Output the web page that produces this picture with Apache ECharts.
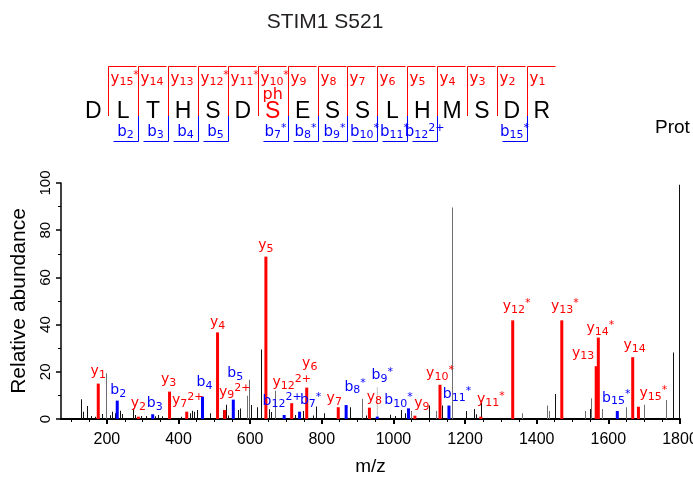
<!DOCTYPE html>
<html><head><meta charset="utf-8">
<script src="https://cdn.jsdelivr.net/npm/echarts@6/dist/echarts.min.js"></script>
<style>html,body{margin:0;padding:0;background:#fff}#c{width:693px;height:478px}</style>
</head><body><div id="c"></div>
<script>
// ---------- data ----------
const chartTitle = 'STIM1 S521';
const sideText = 'Prot';
const xAxisName = 'm/z';
const yAxisName = 'Relative abundance';
const sequence = ['D','L','T','H','S','D','S','E','S','S','L','H','M','S','D','R'];
const phosphoSite = 6;
const phosphoText = 'ph';
// fragment labels at each residue boundary (0 = between residue 1 and 2)
const seqYLabels = ['y15*','y14','y13','y12*','y11*','y10*','y9','y8','y7','y6','y5','y4','y3','y2','y1'];
const seqBLabels = ['','b2','b3','b4','b5','','b7*','b8*','b9*','b10*','b11*','b12^2+','','','b15*'];

const xTickValues = [200,400,600,800,1000,1200,1400,1600,1800];
const xMinorTickValues = [100,150,250,300,350,450,500,550,650,700,750,850,900,950,1050,1100,1150,1250,1300,1350,1450,1500,1550,1650,1700,1750];

// y-type fragment ions (red)
const yIonNames = ['y1','y2','y3','y7^2+','y4','y9^2+','y5','y12^2+','y6','y7','y8','y9','y10*','y11*','y12*','y13*','y13','y14*','y14','y15*'];
const yIonMz    = [176,288,375,423,509,529,644,716,758,846,933,1060,1130,1244,1333,1470,1566,1572,1668,1684];
const yIonInt   = [15,1,11.6,3.1,36.7,3.8,68.8,6.7,13.3,5,4.8,1.4,14.5,1,41.8,41.8,22.4,34.5,26.2,5.2];

// b-type fragment ions (blue)
const bIonNames = ['b2','b3','b4','b5','b12^2+','b7*','b8*','b9*','b10*','b11*','b15*'];
const bIonMz    = [229,328,467,553,695,738,868,955,1042,1155,1625];
const bIonInt   = [7.8,2,9.5,8.2,1.7,3.1,5.9,1,4.5,5.7,3.4];

// unassigned peaks, black
const blackMz  = [130,135,146,158,167,189,209,217,223,239,245,273,279,298,312,335,344,354,409,433,440,446,453,488,512,525,533,539,567,574,605,620,633,654,659,728,749,777,786,807,881,924,991,1005,1023,1033,1102,1138,1205,1226,1233,1247,1453,1549,1781,1798];
const blackInt = [8.4,3.1,5.5,1.3,1,2.1,1.6,3.1,2.4,3.5,2.1,4.5,1.7,1.3,1.3,1.2,1.7,1.2,1,2.4,3.5,3.1,3.8,2.4,4.5,3.8,6,1.5,3.8,4.5,5.9,5,29.4,4.1,3,1.7,3.4,1.5,5.3,2.4,5,1.5,1.8,1.3,3.8,2.4,5.7,5.7,3.4,4.2,2,7.8,10.6,4.2,28.2,99.3];
// unassigned peaks, grey
const greyMz  = [200,592,598,670,915,1051,1119,1166,1361,1430,1437,1535,1552,1584,1651,1702,1763];
const greyInt = [19.4,9.8,16.6,12,8.6,3.4,3.4,89.6,2.4,5.7,3.4,3.4,8.8,4.2,5,6,8];

// dotted connector for b9*
const b9GuideMz  = [955,955];
const b9GuideInt = [1,13.4];

// ---------- styles ----------
const RED = '#ff0000', BLUE = '#0000ff';
const labelOffset = {
  'y1':[0,1],'b2':[1,3],'y2':[0,0],'b3':[2,2],'y3':[-1,1],'y7^2+':[1,2],'b4':[2,-1],'y4':[0,3],
  'y9^2+':[10,-5],'b5':[2,-13],'y5':[0,2],'b12^2+':[-2,-1],'y12^2+':[0,-8],'b7*':[11,2],'y6':[3,-11],
  'y7':[-4,4],'b8*':[9,-5],'y8':[5,3],'b9*':[5,-28],'b10*':[-10,5],'y9':[7,1],'y10*':[0,2],'b11*':[8,2],
  'y11*':[10,-4],'y12*':[4,-1],'y13*':[3,-1],'y13':[-13,0],'y14*':[2,4],'b15*':[-1,0],'y14':[2,1],'y15*':[15,0]
};

function richText(lbl){
  const m = lbl.match(/^([a-z])(\d+)(?:\^(.+)|(\*))?$/);
  let s = '{m|' + m[1] + '}{s|' + m[2] + '}';
  const sup = m[3] || m[4];
  if (sup) s += '{p|' + sup + '}';
  return s;
}
function richStyles(color, main, sub){
  const f = '"DejaVu Sans", Verdana, sans-serif';
  return {
    m:{fontFamily:f, fontSize:main, lineHeight:18, fill:color},
    s:{fontFamily:f, fontSize:sub, lineHeight:12, verticalAlign:'bottom', fill:color},
    p:{fontFamily:f, fontSize:sub, lineHeight:8, verticalAlign:'top', fill:color}
  };
}

function peakSeries(mz, ints, color, width, names){
  return {
    type:'custom', xAxisIndex:0, yAxisIndex:0, z: names ? 4 : 2, animation:false,
    data: mz.map((x,i)=>[x, ints[i]]),
    renderItem(params, api){
      const i = params.dataIndex;
      const top = api.coord([api.value(0), api.value(1)]);
      const base = api.coord([api.value(0), 0]);
      const x0 = width === 1 ? Math.floor(top[0]) : top[0] - width/2;
      const children = [{type:'rect', shape:{x:x0, y:top[1], width:width, height:base[1]-top[1]}, style:{fill:color}}];
      if (names) {
        const off = labelOffset[names[i]] || [0,0];
        children.push({type:'text', x: top[0]+off[0], y: top[1]-4+off[1], z2:10,
          style:{text: richText(names[i]), rich: richStyles(color,14,11), align:'center', verticalAlign:'bottom'}});
      }
      return {type:'group', children};
    }
  };
}

// ---------- peptide map graphic ----------
const graphic = [];
const SANS = '"Liberation Sans", Arial, sans-serif';
graphic.push({type:'text', x:325, y:22, style:{text:chartTitle, font:'21px ' + SANS, fill:'#231f20', align:'center', verticalAlign:'middle'}});
graphic.push({type:'text', x:655, y:128, style:{text:sideText, font:'19px ' + SANS, fill:'#000', align:'left', verticalAlign:'middle'}});
const seqX0 = 93.3, seqStep = 29.9, seqY = 112;
sequence.forEach((aa, i) => {
  graphic.push({type:'text', x: seqX0 + seqStep*i, y: seqY,
    style:{text:aa, font:'23px ' + SANS, fill: i === phosphoSite ? RED : '#000', align:'center', verticalAlign:'middle'}});
});
graphic.push({type:'text', x: seqX0 + seqStep*phosphoSite, y: 95,
  style:{text:phosphoText, font:'16px "DejaVu Sans", sans-serif', fill:RED, align:'center', verticalAlign:'middle'}});
for (let k = 0; k < sequence.length - 1; k++) {
  const bx = Math.round(seqX0 + seqStep*(k+0.5)) + 0.5;
  if (seqYLabels[k]) {
    graphic.push({type:'polyline', shape:{points:[[bx+28,66.5],[bx,66.5],[bx,116]]}, style:{stroke:RED, lineWidth:1, fill:null}});
    graphic.push({type:'text', x: bx+2, y: 79, style:{text: richText(seqYLabels[k]), rich: richStyles(RED,15,11), align:'left', verticalAlign:'middle'}});
  }
  if (seqBLabels[k]) {
    graphic.push({type:'polyline', shape:{points:[[bx,116],[bx,141.5],[bx-25,141.5]]}, style:{stroke:BLUE, lineWidth:1, fill:null}});
    graphic.push({type:'text', x: bx-13, y: 132, style:{text: richText(seqBLabels[k]), rich: richStyles(BLUE,15,11), align:'center', verticalAlign:'middle'}});
  }
}

const axisFont = '"Liberation Sans", Arial, sans-serif';
const option = {
  animation:false,
  backgroundColor:'#fff',
  grid:{left:61, right:13, top:183, bottom:59, containLabel:false, outerBoundsMode:'none'},
  graphic: graphic,
  xAxis:[
    {type:'value', min:72, max:1800, position:'bottom',
     name:xAxisName, nameLocation:'middle', nameGap:38, nameTextStyle:{fontFamily:axisFont, fontSize:19, color:'#000'},
     axisLine:{show:true, lineStyle:{color:'#000', width:2}},
     axisTick:{show:true, customValues:xTickValues, length:5, lineStyle:{color:'#000', width:2}},
     axisLabel:{show:true, customValues:xTickValues, margin:13, fontFamily:axisFont, fontSize:16, color:'#000',
       formatter: v => String(v)},
     splitLine:{show:false}},
    {type:'value', min:72, max:1800, position:'bottom',
     axisLine:{show:false},
     axisTick:{show:true, customValues:xMinorTickValues, length:3, lineStyle:{color:'#000', width:1}},
     axisLabel:{show:false}, splitLine:{show:false}}
  ],
  yAxis:{type:'value', min:0, max:100, interval:20,
     name:yAxisName, nameLocation:'middle', nameGap:26, nameTextStyle:{fontFamily:axisFont, fontSize:21, color:'#000'},
     axisLine:{show:true, lineStyle:{color:'#000', width:1.5}},
     axisTick:{show:true, length:5, lineStyle:{color:'#000', width:1.5}},
     minorTick:{show:true, splitNumber:2, length:3, lineStyle:{color:'#000'}},
     axisLabel:{rotate:90, margin:8, fontFamily:axisFont, fontSize:15, color:'#000'},
     splitLine:{show:false}},
  series:[
    peakSeries(greyMz, greyInt, '#6e6e6e', 1),
    peakSeries(blackMz, blackInt, '#111', 1),
    {type:'line', data: b9GuideMz.map((x,i)=>[x, b9GuideInt[i]]), symbol:'none', z:3,
     lineStyle:{type:'dotted', color:'#888', width:1}},
    peakSeries(yIonMz, yIonInt, RED, 3, yIonNames),
    peakSeries(bIonMz, bIonInt, BLUE, 3, bIonNames)
  ]
};
const chart = echarts.init(document.getElementById('c'), null, {renderer:'canvas'});
chart.setOption(option);
</script></body></html>
